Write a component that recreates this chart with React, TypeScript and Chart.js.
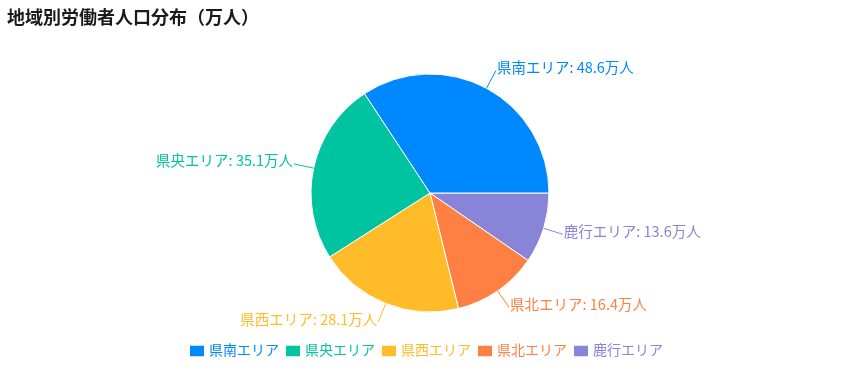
import React, { useEffect, useRef } from "react";
import { Chart, registerables } from "chart.js";

Chart.register(...registerables);

const TITLE = "地域別労働者人口分布（万人）";
const categories = ["県南エリア", "県央エリア", "県西エリア", "県北エリア", "鹿行エリア"];
const values = [48.6, 35.1, 28.1, 16.4, 13.6];
const colors = ["#0088FE", "#00C49F", "#FFBB28", "#FF8042", "#8884D8"];
const UNIT = "万人";

const FONT = '"Noto Sans CJK JP", "Noto Sans", sans-serif';
const W = 864;
const H = 374;

const overlay = {
  id: "overlay",
  afterDatasetsDraw(chart: any) {
    const ctx = chart.ctx as CanvasRenderingContext2D;
    const meta = chart.getDatasetMeta(0);
    const ds = chart.data.datasets[0];
    ctx.save();

    // Title
    ctx.font = `bold 18px ${FONT}`;
    ctx.fillStyle = "#1a1a1a";
    ctx.textAlign = "left";
    ctx.textBaseline = "middle";
    ctx.fillText(TITLE, 7, 17);

    // Slice labels with leader lines
    ctx.font = `14.5px ${FONT}`;
    meta.data.forEach((arc: any, j: number) => {
      const p = arc.getProps(["x", "y", "startAngle", "endAngle", "outerRadius"], true);
      const mid = (p.startAngle + p.endAngle) / 2;
      const x1 = p.x + Math.cos(mid) * p.outerRadius;
      const y1 = p.y + Math.sin(mid) * p.outerRadius;
      const x2 = p.x + Math.cos(mid) * (p.outerRadius + 20);
      const y2 = p.y + Math.sin(mid) * (p.outerRadius + 20);
      const col = ds.backgroundColor[j];
      ctx.strokeStyle = col;
      ctx.lineWidth = 1;
      ctx.beginPath();
      ctx.moveTo(x1, y1);
      ctx.lineTo(x2, y2);
      ctx.stroke();
      ctx.fillStyle = col;
      const right = x2 > p.x;
      ctx.textAlign = right ? "left" : "right";
      ctx.textBaseline = "middle";
      const txt = `${chart.data.labels[j]}: ${ds.data[j]}${UNIT}`;
      ctx.fillText(txt, x2 + (right ? 1 : -1), y2 - 3);
    });

    // Legend (original order)
    ctx.font = `14px ${FONT}`;
    const iconW = 14;
    const iconH = 10.5;
    const gap = 5;
    const margin = 7;
    const widths = categories.map((c) => iconW + gap + ctx.measureText(c).width + margin);
    const total = widths.reduce((a, b) => a + b, 0);
    let lx = 430 - total / 2;
    const ly = 351;
    categories.forEach((c, i) => {
      ctx.fillStyle = colors[i];
      ctx.fillRect(lx, ly - iconH / 2, iconW, iconH);
      ctx.textAlign = "left";
      ctx.textBaseline = "middle";
      ctx.fillText(c, lx + iconW + gap, ly - 1);
      lx += widths[i];
    });

    ctx.restore();
  },
};

export default function App() {
  const ref = useRef<HTMLCanvasElement | null>(null);

  useEffect(() => {
    if (!ref.current) return;
    const revLabels = [...categories].reverse();
    const revValues = [...values].reverse();
    const revColors = [...colors].reverse();
    const chart = new Chart(ref.current, {
      type: "pie",
      data: {
        labels: revLabels,
        datasets: [
          {
            data: revValues,
            backgroundColor: revColors,
            borderColor: "#ffffff",
            borderWidth: 1,
            hoverOffset: 0,
          },
        ],
      },
      options: {
        responsive: false,
        animation: false,
        events: [],
        rotation: 90,
        radius: 119,
        layout: { padding: { top: 74, bottom: 62, left: 0, right: 4 } },
        plugins: {
          legend: { display: false },
          title: { display: false },
          tooltip: { enabled: false },
        },
      } as any,
      plugins: [overlay],
    });
    return () => chart.destroy();
  }, []);

  return (
    <div style={{ position: "fixed", left: 0, top: 0, width: W, height: H, background: "#fff" }}>
      <canvas ref={ref} width={W} height={H} style={{ display: "block" }} />
    </div>
  );
}
